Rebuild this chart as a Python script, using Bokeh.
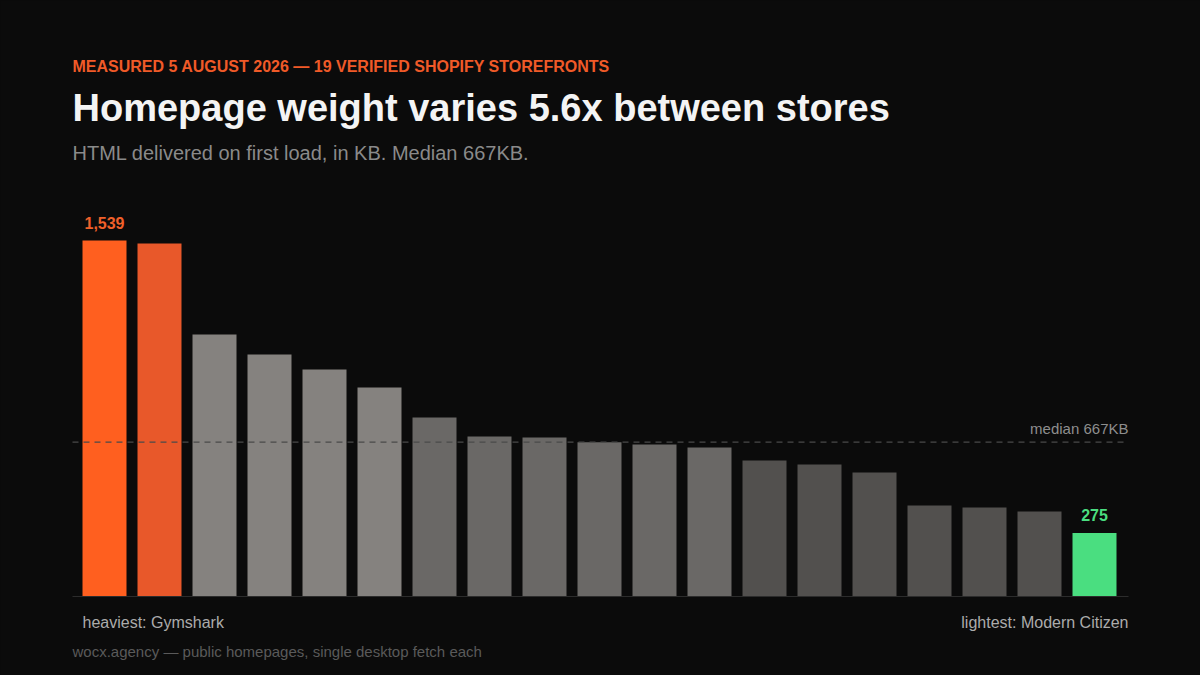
import numpy as np
from bokeh.plotting import figure
from bokeh.models import Range1d, Label, ColumnDataSource
from bokeh.embed import file_html
from bokeh.resources import INLINE

# ---- data (KB of HTML delivered on first load), sorted heaviest -> lightest
ranks = list(range(1, 20))
weights_kb = [1539, 1526, 1133, 1046, 981, 904, 774, 692, 687, 667,
              657, 644, 588, 571, 536, 393, 385, 367, 275]
bar_colors = ["#FF5F1F", "#E8582A",
              "#85827F", "#85827F", "#85827F", "#85827F",
              "#6A6866", "#6A6866", "#6A6866", "#6A6866", "#6A6866", "#6A6866",
              "#52504E", "#52504E", "#52504E", "#52504E", "#52504E", "#52504E",
              "#4ADE80"]
heaviest_name = "Gymshark"
lightest_name = "Modern Citizen"

kicker = "MEASURED 5 AUGUST 2026 \u2014 19 VERIFIED SHOPIFY STOREFRONTS"
title = "Homepage weight varies 5.6x between stores"
median_kb = int(np.median(weights_kb))
subtitle = f"HTML delivered on first load, in KB. Median {median_kb}KB."
footer = "wocx.agency \u2014 public homepages, single desktop fetch each"

# ---- layout
W, H = 1200, 675
BAR_STEP = 55.0           # px per category
FIRST_CENTER = 104.0      # page px of first bar centre
BASE_Y = 596.0            # page px of baseline
K = 356.0 / 1539.0        # px per KB
SHIFT = 0.37              # baseline correction (em)

x0 = -FIRST_CENTER / BAR_STEP
x1 = x0 + W / BAR_STEP
y1 = BASE_Y / K
y0 = y1 - H / K

def X(px):
    return (px - FIRST_CENTER) / BAR_STEP

def Y(py):
    return (BASE_Y - py) / K

FONT = "Liberation Sans"
BG = "#0b0b0b"

p = figure(width=W, height=H, output_backend="svg", toolbar_location=None,
           x_range=Range1d(x0, x1), y_range=Range1d(y0, y1),
           x_axis_location=None, y_axis_location=None,
           min_border=0, min_border_left=0, min_border_right=0,
           min_border_top=0, min_border_bottom=0)
p.background_fill_color = BG
p.border_fill_color = BG
p.outline_line_color = None
p.xgrid.visible = False
p.ygrid.visible = False

src = ColumnDataSource(dict(x=[r - 1 for r in ranks], top=weights_kb, color=bar_colors))
p.vbar(x="x", top="top", bottom=0, width=0.8, fill_color="color", line_color=None, source=src)

# baseline and median line
p.segment(x0=[X(72)], y0=[0], x1=[X(1128)], y1=[0], line_color="#2c2c2c", line_width=1)
p.segment(x0=[X(72)], y0=[median_kb], x1=[X(1128)], y1=[median_kb],
          line_color="#4a4a4a", line_width=1.2, line_dash="6 5")

def lab(text, x, y, size, color, bold=False, align="left"):
    p.add_layout(Label(x=x, y=y + SHIFT * size / K, text=text, text_font=FONT,
                       text_font_size=f"{size}px", text_color=color,
                       text_font_style="bold" if bold else "normal",
                       text_align=align, text_baseline="alphabetic"))

lab(kicker, X(72), Y(72), 16, "#F05A28", bold=True)
lab(title, X(72), Y(122), 38, "#F4F4F4", bold=True)
lab(subtitle, X(72), Y(160), 20, "#8A8A8A")

# value labels for extremes
lab(f"{weights_kb[0]:,}", 0, weights_kb[0] + 12 / K, 16, "#F0602A", bold=True, align="center")
lab(f"{weights_kb[-1]:,}", len(weights_kb) - 1, weights_kb[-1] + 12 / K, 16, "#4ADE80",
    bold=True, align="center")

lab(f"median {median_kb}KB", X(1128), median_kb + 8 / K, 15, "#8E8E8E", align="right")

lab(f"heaviest: {heaviest_name}", X(82), Y(628), 16, "#ABABAB")
lab(f"lightest: {lightest_name}", X(1128), Y(628), 16, "#ABABAB", align="right")
lab(footer, X(72), Y(657), 15, "#5A5A5A")

html = file_html(p, INLINE, title="Homepage weight")
html = html.replace("</head>", "<style>html,body{background:#0b0b0b;}</style></head>", 1)
open("out.html", "w").write(html)
